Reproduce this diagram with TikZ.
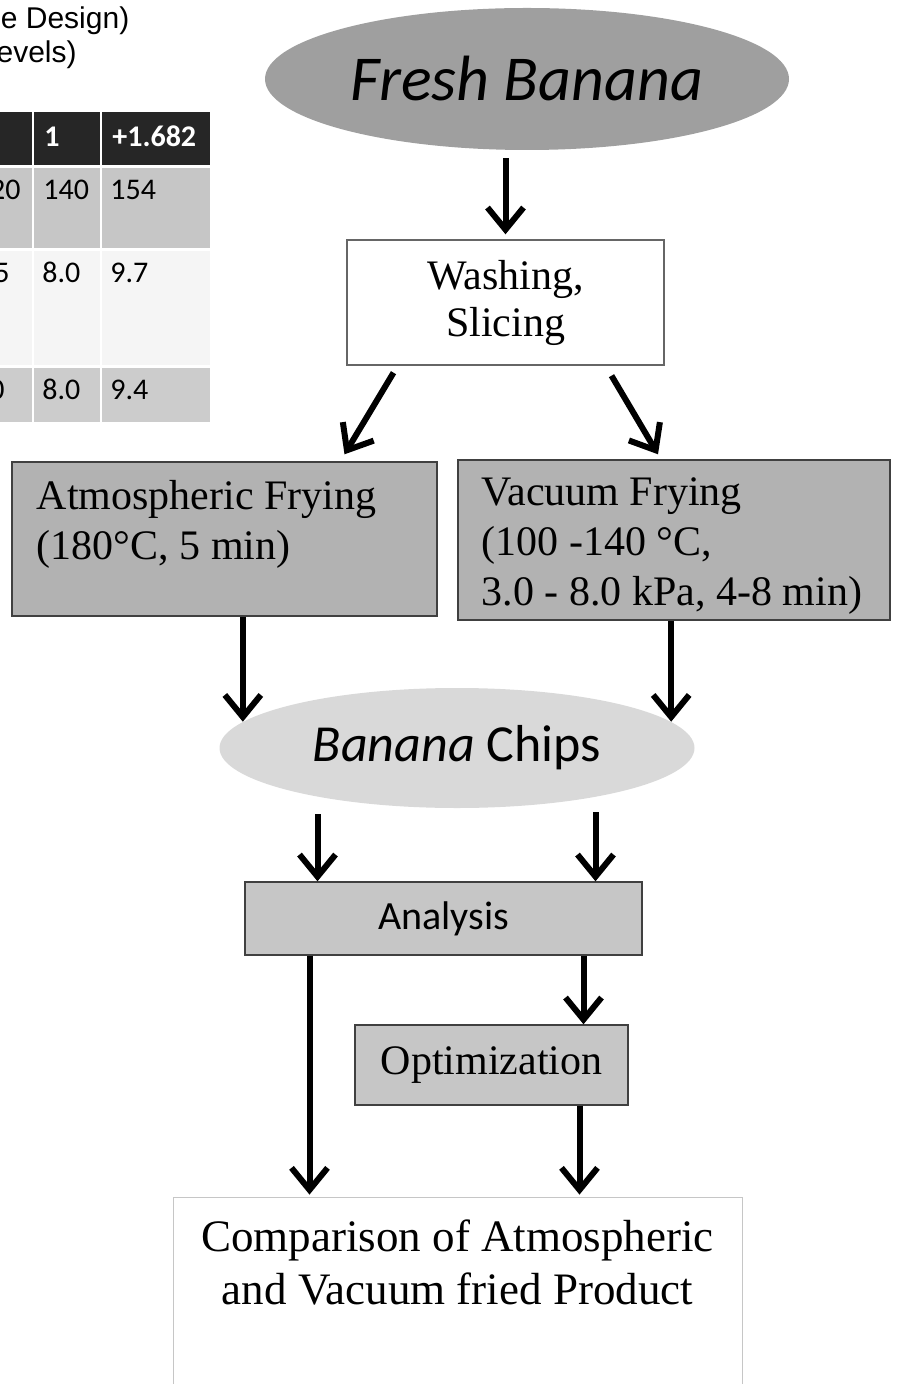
\documentclass[tikz,border=0pt]{standalone}
\usepackage{fontspec}
\setmainfont{Liberation Serif}
\newfontfamily\calibri{Carlito}
\newfontfamily\arial{Liberation Sans}
\usetikzlibrary{arrows.meta,shapes.geometric,positioning}
\begin{document}
\begin{tikzpicture}[x=0.5pt, y=-0.5pt,
    caja/.style={rectangle, draw=black!75, line width=0.7pt, inner sep=0pt},
    elipse/.style={ellipse, inner sep=0pt},
    flecha/.style={line width=3pt, -{Straight Barb[length=11pt, width=18pt]}},
    celda/.style={inner sep=0pt, font=\calibri\fontsize{15}{18}\selectfont}]
        \useasboundingbox (0,0) rectangle (899,1384);
        % texto cortado arriba a la izquierda
        \node[anchor=base west, inner sep=0pt, font=\arial\fontsize{15}{18}\selectfont] (titulo1) at (0.5,29) {e Design)};
        \node[anchor=base east, inner sep=0pt, font=\arial\fontsize{15}{18}\selectfont] (titulo2) at (77,63) {evels)};
        % tabla de niveles
        \fill[black!85] (0,112) rectangle (32,165);
        \fill[black!85] (34,112) rectangle (100,165);
        \fill[black!85] (102,112) rectangle (210,165);
        \fill[gray!45] (0,168) rectangle (32,248);
        \fill[gray!45] (34,168) rectangle (100,248);
        \fill[gray!45] (102,168) rectangle (210,248);
        \fill[gray!8] (0,251) rectangle (32,365);
        \fill[gray!8] (34,251) rectangle (100,365);
        \fill[gray!8] (102,251) rectangle (210,365);
        \fill[gray!40] (0,368) rectangle (32,422);
        \fill[gray!40] (34,368) rectangle (100,422);
        \fill[gray!40] (102,368) rectangle (210,422);
        \node[celda, anchor=base west, text=white, font=\calibri\bfseries\fontsize{15}{18}\selectfont] (h1) at (44,147) {1};
        \node[celda, anchor=base west, text=white, font=\calibri\bfseries\fontsize{15}{18}\selectfont] (h2) at (112,147) {+1.682};
        \node[celda, anchor=base east] (a0) at (21,200) {20};
        \node[celda, anchor=base west] (a1) at (43,200) {140};
        \node[celda, anchor=base west] (a2) at (110,200) {154};
        \node[celda, anchor=base east] (b0) at (10,283) {5};
        \node[celda, anchor=base west] (b1) at (42,283) {8.0};
        \node[celda, anchor=base west] (b2) at (110,283) {9.7};
        \node[celda, anchor=base east] (c0) at (5,400) {0};
        \node[celda, anchor=base west] (c1) at (42,400) {8.0};
        \node[celda, anchor=base west] (c2) at (110,400) {9.4};
        % diagrama de flujo
        \node[elipse, fill=gray!75, minimum width=262pt, minimum height=71pt, font=\calibri\itshape\fontsize{32}{38}\selectfont] (fresca) at (527,79) {Fresh Banana};
        \node[caja, fill=white, draw=black!60, minimum width=158.5pt, minimum height=62.5pt, align=center, font=\fontsize{21}{23.5}\selectfont] (lavado) at (505.5,302.5) {Washing,\\Slicing};
        \node[caja, fill=gray!60, minimum width=212.5pt, minimum height=77pt] (atm) at (224.5,539) {};
        \node[anchor=north west, inner sep=0pt, align=flush left, font=\fontsize{21}{25}\selectfont] (textoatm) at ([xshift=12.5pt,yshift=-9.5pt]atm.north west) {Atmospheric Frying\\(180°C, 5 min)};
        \node[caja, fill=gray!60, minimum width=216pt, minimum height=80pt] (vacio) at (674,540) {};
        \node[anchor=north west, inner sep=0pt, align=flush left, font=\fontsize{21}{25}\selectfont] (textovacio) at ([xshift=12pt,yshift=-9pt]vacio.north west) {Vacuum Frying\\(100 -140 °C,\\3.0 - 8.0 kPa, 4-8 min)};
        \node[elipse, fill=gray!30, minimum width=237.5pt, minimum height=60pt, font=\calibri\fontsize{26}{30}\selectfont] (chips) at (457,748) {\textit{Banana} Chips};
        \node[caja, fill=gray!45, minimum width=198.5pt, minimum height=36.5pt, font=\calibri\fontsize{20}{24}\selectfont] (analisis) at (443.5,918.5) {Analysis};
        \node[caja, fill=gray!45, minimum width=136.5pt, minimum height=40pt, font=\fontsize{21}{24}\selectfont] (optim) at (491.5,1065) {Optimization};
        \node[caja, draw=gray!45, line width=0.4pt, fill=white, minimum width=284.5pt, minimum height=94pt] (comparacion) at (457.5,1291) {};
        \node[below=11.5pt of comparacion.north, align=center, inner sep=0pt, font=\fontsize{22.5}{26.5}\selectfont] (textocomp) {Comparison of Atmospheric\\and Vacuum fried Product};
        % flechas
        \draw[flecha] ([yshift=-4pt]lavado.north |- fresca.south) -- ([yshift=2.5pt]lavado.north);
        \draw[flecha] ([xshift=-56pt,yshift=-3.5pt]lavado.south) -- ([xshift=60pt,yshift=3.5pt]atm.north);
        \draw[flecha] ([xshift=53pt,yshift=-5pt]lavado.south) -- ([xshift=-8pt,yshift=2.5pt]vacio.north);
        \draw[flecha] (chips.173 |- atm.south) -- (chips.173);
        \draw[flecha] (chips.7 |- vacio.south) -- (chips.7);
        \draw[flecha] ([xshift=-63pt,yshift=-3pt]analisis.north |- chips.south) -- ([xshift=-63pt]analisis.north);
        \draw[flecha] ([xshift=76pt,yshift=-2pt]analisis.north |- chips.south) -- ([xshift=76pt]analisis.north);
        \draw[flecha] ([xshift=46pt]optim.north |- analisis.south) -- ([xshift=46pt]optim.north);
        \draw[flecha] ([xshift=-74pt]comparacion.north |- analisis.south) -- ([xshift=-74pt,yshift=1pt]comparacion.north);
        \draw[flecha] ([xshift=61pt]comparacion.north |- optim.south) -- ([xshift=61pt,yshift=1pt]comparacion.north);
\end{tikzpicture}
\end{document}
